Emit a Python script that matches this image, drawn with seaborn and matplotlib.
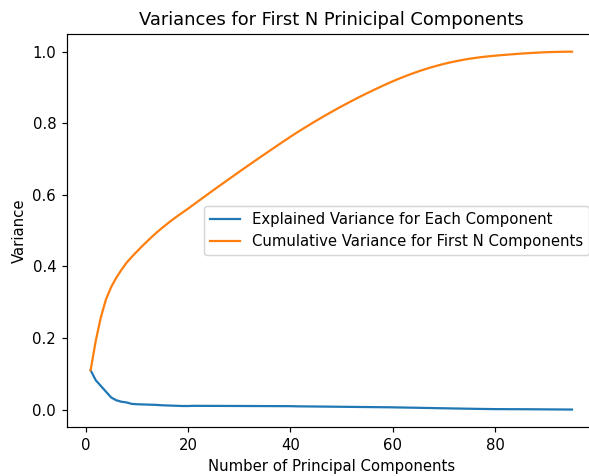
import numpy as np
import matplotlib
matplotlib.use("Agg")
import matplotlib.pyplot as plt
import seaborn as sns

components = list(range(1, 96))
explained_variance = [
    0.110, 0.082, 0.066, 0.050, 0.034, 0.026, 0.022, 0.020,
    0.0160, 0.0150, 0.0145, 0.0140, 0.0135, 0.0130,
    0.0120, 0.0115, 0.0110, 0.0105, 0.0100, 0.0100,
    0.0105, 0.0105, 0.0104, 0.0104, 0.0103, 0.0103, 0.0102, 0.0102, 0.0101, 0.0101,
    0.0100, 0.0100, 0.0099, 0.0099, 0.0098, 0.0098, 0.0097, 0.0097, 0.0096, 0.0096,
    0.0092, 0.0090, 0.0089, 0.0087, 0.0086, 0.0084, 0.0083, 0.0081, 0.0080, 0.0078,
    0.0077, 0.0075, 0.0074, 0.0072, 0.0071, 0.0069, 0.0068, 0.0066, 0.0065, 0.0063,
    0.0060, 0.0058, 0.0055, 0.0053, 0.0050, 0.0047, 0.0045, 0.0042, 0.0039, 0.0037,
    0.0034, 0.0031, 0.0029, 0.0026, 0.0024, 0.0021, 0.0019, 0.0017, 0.0015, 0.0013,
    0.0013, 0.0012, 0.0011, 0.0011, 0.0010, 0.0010, 0.0009, 0.0008, 0.0007, 0.0006,
    0.0005, 0.0004, 0.0003, 0.0002, 0.0001,
]
cumulative_variance = list(np.cumsum(explained_variance))

DPI = 107
fig = plt.figure(figsize=(589 / DPI, 476 / DPI), dpi=DPI)
ax = fig.add_axes([0.113, 0.102, 0.899, 0.827])

sns.lineplot(x=components, y=explained_variance, ax=ax, color="C0",
             label="Explained Variance for Each Component")
sns.lineplot(x=components, y=cumulative_variance, ax=ax, color="C1",
             label="Cumulative Variance for First N Components")

ax.set_title("Variances for First N Prinicipal Components", fontsize=12)
ax.set_xlabel("Number of Principal Components")
ax.set_ylabel("Variance")
ax.legend(loc="center right")

fig.savefig("out.png", dpi=DPI)
